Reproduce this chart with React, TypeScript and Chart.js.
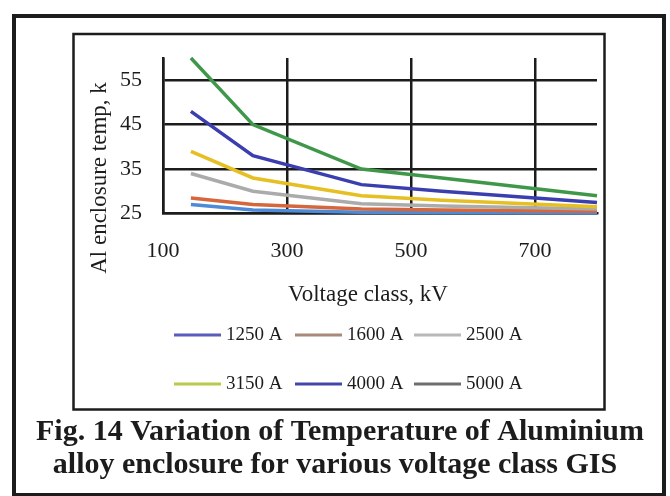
import React, { useEffect, useRef } from "react";
import { Chart, registerables } from "chart.js";

Chart.register(...registerables);

// ---- data ----
const voltageClasses = [145, 245, 420, 550, 800];
const seriesNames = ["1250 A", "1600 A", "2500 A", "3150 A", "4000 A", "5000 A"];
const temp1250 = [27, 25.8, 25.3, 25.2, 25.1];
const temp1600 = [28.5, 27, 26, 25.8, 25.5];
const temp2500 = [34, 30, 27.2, 26.7, 26];
const temp3150 = [39, 33, 29, 28, 26.5];
const temp4000 = [48, 38, 31.5, 30, 27.5];
const temp5000 = [60, 45, 35, 33, 29];
const xTicks = [100, 300, 500, 700];
const yTicks = [25, 35, 45, 55];
const xTitle = "Voltage class, kV";
const yTitle = "Al enclosure temp, k";
const captionLines = [
  "Fig. 14 Variation of Temperature of Aluminium",
  "alloy enclosure for various voltage class GIS",
];

// ---- styles ----
const seriesValues = [temp1250, temp1600, temp2500, temp3150, temp4000, temp5000];
const lineColors = ["#4d8bd6", "#d6663c", "#ababab", "#e6bf22", "#3b3eae", "#3f984a"];
const legendColors = ["#5a5cbc", "#a88a78", "#b8b8b8", "#b8c94c", "#4646aa", "#6e6e6e"];
const ink = "#1c1c1c";
const serif = "'Liberation Serif', 'Times New Roman', serif";

const decorPlugin = {
  id: "decor",
  beforeDraw(chart: any) {
    const ctx = chart.ctx;
    ctx.save();
    ctx.fillStyle = "#ffffff";
    ctx.fillRect(0, 0, chart.width, chart.height);
    ctx.restore();
  },
  afterDraw(chart: any) {
    const ctx = chart.ctx;
    ctx.save();
    // frames
    ctx.strokeStyle = ink;
    ctx.lineWidth = 4;
    ctx.strokeRect(14, 16, 650, 479);
    ctx.lineWidth = 2.5;
    ctx.strokeRect(73.5, 34, 531, 375.5);

    ctx.fillStyle = ink;
    // y title
    ctx.save();
    ctx.translate(100, 178);
    ctx.rotate(-Math.PI / 2);
    ctx.font = `23px ${serif}`;
    ctx.textAlign = "center";
    ctx.textBaseline = "middle";
    ctx.fillText(yTitle, 0, 0);
    ctx.restore();

    // x title
    ctx.font = `23px ${serif}`;
    ctx.textAlign = "center";
    ctx.textBaseline = "middle";
    ctx.fillText(xTitle, 368, 295);

    // legend
    const rowsY = [335, 384];
    const lineStarts = [174, 295, 414];
    const lineLen = 47;
    ctx.font = `19px ${serif}`;
    ctx.textAlign = "left";
    ctx.lineCap = "butt";
    chart.data.datasets.forEach((ds: any, i: number) => {
      const row = Math.floor(i / 3);
      const col = i % 3;
      const y = rowsY[row];
      const x0 = lineStarts[col];
      ctx.strokeStyle = legendColors[i];
      ctx.lineWidth = 3;
      ctx.beginPath();
      ctx.moveTo(x0, y);
      ctx.lineTo(x0 + lineLen, y);
      ctx.stroke();
      ctx.fillStyle = ink;
      ctx.fillText(ds.label, x0 + lineLen + 5, y);
    });

    // caption
    ctx.font = `bold 30px ${serif}`;
    ctx.textAlign = "center";
    ctx.textBaseline = "alphabetic";
    ctx.fillText(captionLines[0], 340, 440);
    ctx.fillText(captionLines[1], 335, 473);
    ctx.restore();
  },
};

export default function App() {
  const canvasRef = useRef<HTMLCanvasElement | null>(null);

  useEffect(() => {
    const canvas = canvasRef.current;
    if (!canvas) return;
    const datasets = seriesNames.map((name, i) => ({
      label: name,
      data: voltageClasses.map((v, j) => ({ x: v, y: seriesValues[i][j] })),
      borderColor: lineColors[i],
      backgroundColor: lineColors[i],
      borderWidth: 3.5,
      pointRadius: 0,
      tension: 0,
      fill: false,
      clip: false,
      order: seriesNames.length - i,
    }));

    const chart = new Chart(canvas, {
      type: "line",
      data: { datasets },
      plugins: [decorPlugin],
      options: {
        animation: false,
        responsive: false,
        maintainAspectRatio: false,
        layout: { padding: { top: 58, right: 73, bottom: 222.5, left: 60 } },
        plugins: {
          legend: { display: false },
          tooltip: { enabled: false },
          title: { display: false },
        },
        scales: {
          x: {
            type: "linear",
            min: 100,
            max: 800,
            afterBuildTicks: (s: any) => {
              s.ticks = xTicks.map((v) => ({ value: v }));
            },
            afterFit: (s: any) => {
              s.height = 60;
            },
            grid: { color: ink, lineWidth: 2.5, drawTicks: false },
            border: { color: ink, width: 2.5 },
            ticks: {
              padding: 25,
              color: ink,
              autoSkip: false,
              maxRotation: 0,
              font: { family: serif, size: 22 },
            },
          },
          y: {
            type: "linear",
            min: 25,
            max: 60,
            afterBuildTicks: (s: any) => {
              s.ticks = yTicks.map((v) => ({ value: v }));
            },
            afterFit: (s: any) => {
              s.width = 103;
            },
            grid: { color: ink, lineWidth: 2.5, drawTicks: false },
            border: { color: ink, width: 2.5 },
            ticks: {
              padding: 21,
              color: ink,
              font: { family: serif, size: 22 },
            },
          },
        },
      },
    } as any);
    return () => chart.destroy();
  }, []);

  return (
    <div style={{ position: "absolute", left: 0, top: 0, width: 670, height: 496, background: "#fff" }}>
      <canvas ref={canvasRef} width={670} height={496} style={{ display: "block", width: 670, height: 496 }} />
    </div>
  );
}
